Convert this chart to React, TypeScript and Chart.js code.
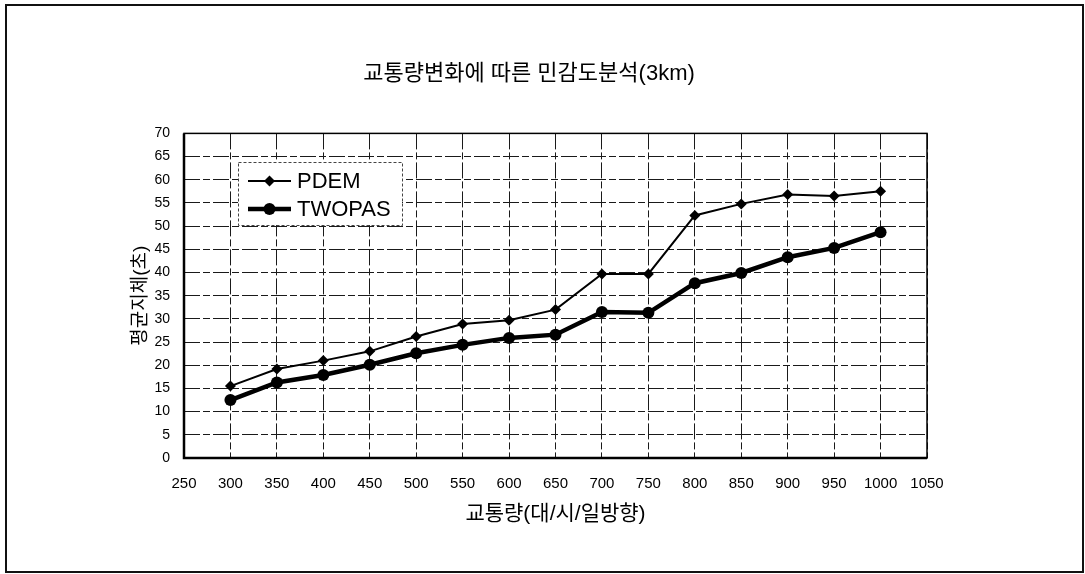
import React, { useEffect, useRef } from "react";
import { Chart, registerables } from "chart.js";

Chart.register(...registerables);

// Traffic volume (veh/h/direction) on the horizontal axis
const volumes = [300, 350, 400, 450, 500, 550, 600, 650, 700, 750, 800, 850, 900, 950, 1000];
// Average delay (s) per model
const pdemDelay = [15.5, 19.2, 21.0, 23.0, 26.2, 28.9, 29.7, 32.0, 39.7, 39.7, 52.3, 54.8, 56.8, 56.5, 57.5];
const twopasDelay = [12.5, 16.3, 17.9, 20.1, 22.6, 24.4, 25.9, 26.6, 31.5, 31.3, 37.7, 39.9, 43.3, 45.3, 48.7];

const seriesNames = ["PDEM", "TWOPAS"];
const xTicks = [250, 300, 350, 400, 450, 500, 550, 600, 650, 700, 750, 800, 850, 900, 950, 1000, 1050];
const yTicks = [0, 5, 10, 15, 20, 25, 30, 35, 40, 45, 50, 55, 60, 65, 70];

const chartTitle = "교통량변화에 따른 민감도분석(3km)";
const xTitle = "교통량(대/시/일방향)";
const yTitle = "평균지체(초)";

const FONT = "'Liberation Sans', Arial, 'Noto Sans CJK KR', sans-serif";

// White page with a thin frame around the whole figure
const pageFrame = {
  id: "pageFrame",
  beforeDraw(chart: any) {
    const { ctx, width, height } = chart;
    ctx.save();
    ctx.fillStyle = "#fff";
    ctx.fillRect(0, 0, width, height);
    ctx.strokeStyle = "#111";
    ctx.lineWidth = 2;
    ctx.strokeRect(6, 5, 1077, 567);
    ctx.restore();
  },
};

// Solid border around the plot area, drawn over the dashed grid
const plotFrame = {
  id: "plotFrame",
  beforeDatasetsDraw(chart: any) {
    const { ctx, chartArea: a } = chart;
    ctx.save();
    ctx.strokeStyle = "#000";
    ctx.lineWidth = 1.5;
    ctx.strokeRect(a.left, a.top, a.right - a.left, a.bottom - a.top);
    ctx.lineWidth = 2.5;
    ctx.beginPath();
    ctx.moveTo(a.left, a.top);
    ctx.lineTo(a.left, a.bottom);
    ctx.lineTo(a.right, a.bottom);
    ctx.stroke();
    ctx.restore();
  },
};

// Boxed legend placed inside the plot, showing line + marker samples
const boxedLegend = {
  id: "boxedLegend",
  afterDraw(chart: any) {
    const { ctx } = chart;
    const x0 = 238;
    const y0 = 162;
    const w = 164;
    const h = 63;
    ctx.save();
    ctx.fillStyle = "#fff";
    ctx.fillRect(x0, y0, w, h);
    ctx.strokeStyle = "#444";
    ctx.lineWidth = 1;
    ctx.setLineDash([3, 2]);
    ctx.strokeRect(x0 + 0.5, y0 + 0.5, w, h);
    ctx.setLineDash([]);
    chart.data.datasets.forEach((ds: any, i: number) => {
      const cy = y0 + 19 + i * 28;
      const lx1 = x0 + 10;
      const lx2 = x0 + 53;
      const mx = (lx1 + lx2) / 2;
      ctx.strokeStyle = ds.borderColor;
      ctx.fillStyle = ds.backgroundColor;
      ctx.lineWidth = ds.borderWidth;
      ctx.beginPath();
      ctx.moveTo(lx1, cy);
      ctx.lineTo(lx2, cy);
      ctx.stroke();
      const r = ds.pointRadius;
      ctx.beginPath();
      if (ds.pointStyle === "rectRot") {
        ctx.moveTo(mx, cy - r);
        ctx.lineTo(mx + r, cy);
        ctx.lineTo(mx, cy + r);
        ctx.lineTo(mx - r, cy);
        ctx.closePath();
      } else {
        ctx.arc(mx, cy, r, 0, Math.PI * 2);
      }
      ctx.fill();
      ctx.fillStyle = "#000";
      ctx.font = `22px ${FONT}`;
      ctx.textAlign = "left";
      ctx.textBaseline = "middle";
      ctx.fillText(ds.label, x0 + 59, cy + 1);
    });
    ctx.restore();
  },
};

export default function App() {
  const canvasRef = useRef<HTMLCanvasElement | null>(null);

  useEffect(() => {
    const canvas = canvasRef.current;
    if (!canvas) return;
    const gridDash = [16, 3, 7, 3];
    const chart = new Chart(canvas, {
      type: "line",
      data: {
        datasets: [
          {
            label: seriesNames[0],
            data: volumes.map((v, i) => ({ x: v, y: pdemDelay[i] })),
            borderColor: "#000",
            backgroundColor: "#000",
            borderWidth: 2,
            pointStyle: "rectRot",
            pointRadius: 5.5,
            pointBorderWidth: 0,
            tension: 0,
          },
          {
            label: seriesNames[1],
            data: volumes.map((v, i) => ({ x: v, y: twopasDelay[i] })),
            borderColor: "#000",
            backgroundColor: "#000",
            borderWidth: 4.5,
            pointStyle: "circle",
            pointRadius: 6,
            pointBorderWidth: 0,
            tension: 0,
          },
        ],
      },
      options: {
        responsive: false,
        animation: false,
        layout: { padding: { left: 131, right: 158, top: 0, bottom: 20 } },
        plugins: {
          legend: { display: false },
          tooltip: { enabled: false },
          title: {
            display: true,
            text: chartTitle,
            color: "#000",
            font: { family: FONT, size: 22, weight: "normal" },
            padding: { top: 61, bottom: 46 },
          },
        },
        scales: {
          x: {
            type: "linear",
            min: 250,
            max: 1050,
            afterBuildTicks: (s: any) => {
              s.ticks = xTicks.map((v) => ({ value: v }));
            },
            afterFit: (s: any) => {
              s.height = 96;
            },
            ticks: {
              padding: 17,
              color: "#000",
              maxRotation: 0,
              autoSkip: false,
              font: { family: FONT, size: 15 },
              callback: (v: any) => String(v),
            },
            grid: { color: "#1a1a1a", lineWidth: 1, drawTicks: false },
            border: { display: false, dash: gridDash },
            title: {
              display: true,
              text: xTitle,
              color: "#000",
              font: { family: FONT, size: 21 },
              padding: { top: 0, bottom: 27 },
            },
          },
          y: {
            type: "linear",
            min: 0,
            max: 70,
            afterBuildTicks: (s: any) => {
              s.ticks = yTicks.map((v) => ({ value: v }));
            },
            afterFit: (s: any) => {
              s.width = 53;
            },
            ticks: {
              padding: 14,
              color: "#000",
              autoSkip: false,
              font: { family: FONT, size: 14 },
              callback: (v: any) => String(v),
            },
            grid: { color: "#1a1a1a", lineWidth: 1, drawTicks: false },
            border: { display: false, dash: gridDash },
            title: {
              display: true,
              text: yTitle,
              color: "#000",
              font: { family: FONT, size: 19 },
              padding: { top: -2, bottom: 0 },
            },
          },
        },
      },
      plugins: [pageFrame, plotFrame, boxedLegend],
    } as any);
    return () => chart.destroy();
  }, []);

  return (
    <div style={{ position: "fixed", left: 0, top: 0, width: 1085, height: 574, background: "#fff" }}>
      <canvas ref={canvasRef} width={1085} height={574} style={{ width: 1085, height: 574, display: "block" }} />
    </div>
  );
}
